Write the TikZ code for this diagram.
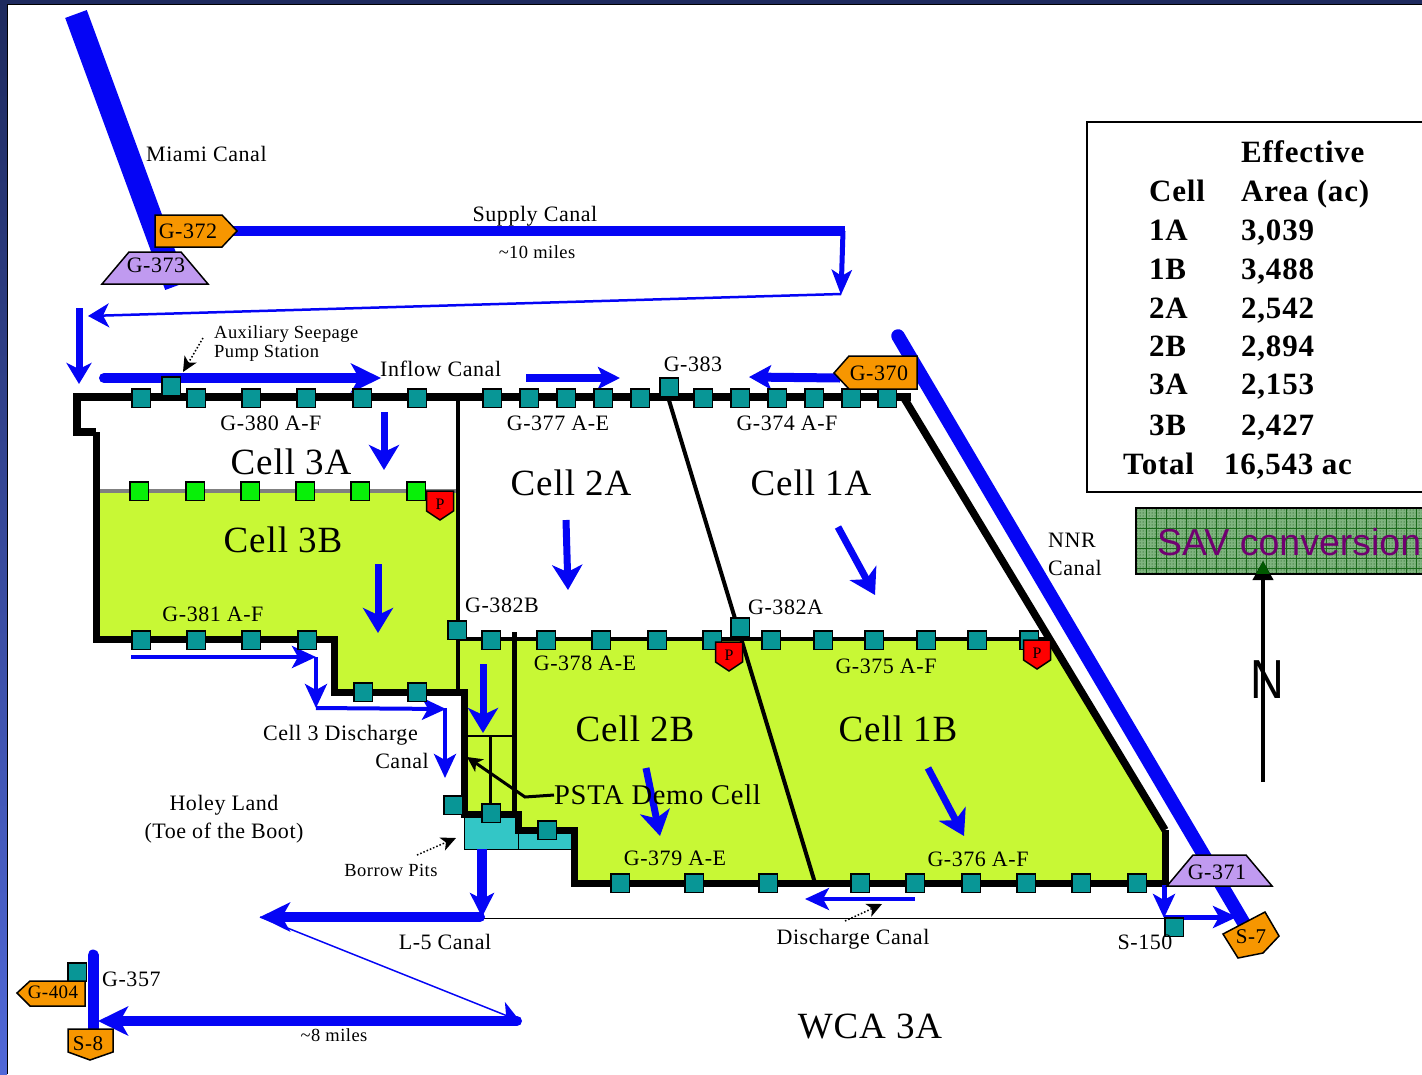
\documentclass[tikz,border=0pt]{standalone}
\usepackage{fontspec}
\usepackage{xcolor}
\setmainfont[LetterSpace=2.5]{Liberation Serif}
\newfontfamily\savfont{Liberation Sans}
\usetikzlibrary{arrows.meta,patterns}

\definecolor{canal}{HTML}{0505F5}
\definecolor{marsh}{HTML}{C8F835}
\definecolor{gateteal}{HTML}{089696}
\definecolor{gatelime}{HTML}{08F008}
\definecolor{pit}{HTML}{33C6C6}
\definecolor{amber}{HTML}{F79600}
\definecolor{lilac}{HTML}{C09AF0}
\definecolor{savgreen}{HTML}{7FB47F}
\definecolor{savline}{HTML}{1A6A1A}
\definecolor{savtext}{HTML}{700070}
\definecolor{striptop}{HTML}{1E2A5E}
\definecolor{stripbot}{HTML}{5068D8}

\tikzset{
  gate/.style={draw=black, line width=1.5pt, fill=gateteal, minimum size=18.5pt, inner sep=0pt},
  limegate/.style={gate, fill=gatelime},
  gatetext/.style={inner sep=0pt, text height=15pt, text depth=0pt, font=\fontsize{22}{24}\selectfont},
  notetext/.style={inner sep=0pt, text height=12.5pt, text depth=0pt, font=\fontsize{18.5}{19}\selectfont},
  celltext/.style={inner sep=0pt, text height=25pt, text depth=0pt, font=\fontsize{37}{40}\selectfont},
  tabletext/.style={inner sep=0pt, anchor=west, text height=21pt, text depth=0pt, font=\fontsize{31}{33}\selectfont\bfseries},
  pointer/.style={black, line width=1.5pt, dotted, -{Stealth[length=15pt,width=14pt,inset=4pt]}},
  bigflow/.style={draw=canal, line width=10pt, -{Stealth[length=30pt,width=29pt,inset=8pt]}},
  flow/.style={draw=canal, line width=7pt, -{Stealth[length=25pt,width=30pt,inset=7pt]}},
  smallflow/.style={draw=canal, line width=4pt, -{Stealth[length=24pt,width=22pt,inset=6pt]}},
  thinflow/.style={draw=canal, line width=1.5pt, -{Stealth[length=21pt,width=24pt,inset=6pt]}}
}

\begin{document}
\begin{tikzpicture}[x=1pt,y=-1pt]
\useasboundingbox (0,0) rectangle (1422,1074);

\shade[top color=striptop, bottom color=stripbot] (0,0) rectangle (7,1074);
\fill[striptop] (0,0) rectangle (1422,4);
\fill[black] (7,4) rectangle (8,1074);
\fill[black] (7,4) rectangle (1422,5);

\fill[marsh] (98,492) -- (458,492) -- (458,692) -- (334,692) -- (334,639) -- (98,639) -- cycle;
\fill[marsh] (458,639) -- (1047,639) -- (1165,830) -- (1165,883) -- (574,883) -- (574,830) -- (518,830) -- (518,814) -- (464,814) -- (464,692) -- (458,692) -- cycle;
\draw[fill=pit, line width=1pt] (464,817) rectangle (518,849);
\draw[fill=pit, line width=1pt] (518,832) rectangle (572,849);

\draw[canal, line width=23pt] (76,14) -- (176,286);
\draw[canal, line width=10pt] (230,231) -- (845,231);
\draw[canal, line width=13.5pt, line cap=round] (898,336) -- (1245,925);

\draw[line width=1pt] (484,918) -- (1164,918);
\draw[line width=4pt, gray] (98,491) -- (456,491);
\draw[line width=4pt] (458,397) -- (458,692);
\draw[line width=4pt] (458,639) -- (1047,639);
\draw[line width=4pt] (668,397) -- (815,883);
\draw[line width=5pt] (514,632) -- (514,814);
\draw[line width=1.5pt] (466,736) -- (514,736);
\draw[line width=3pt] (490,736) -- (490,808);
\draw[line width=7.5pt] (96,432) -- (77,432) -- (77,397) -- (911,397);
\draw[line width=7.5pt] (904,398) -- (1165,830);
\draw[line width=7pt] (96,432) -- (96,639) -- (334,639) -- (334,692) -- (464,692) -- (464,814) -- (518,814) -- (518,830) -- (574,830) -- (574,883) -- (1165,883) -- (1165,830);

\foreach \x in {139,195,250,305,360,416} \node[limegate] (lime\x) at (\x,491) {};

\draw[draw=canal, line width=5pt, -{Stealth[length=25pt,width=20pt,inset=6pt]}] (843,231) -- (841,295);
\draw[thinflow, line width=2.5pt] (841,294) -- (88,316);
\draw[flow, -{Stealth[length=21pt,width=25pt,inset=6pt]}] (79,308) -- (79,384);
\draw[bigflow, line cap=round] (104,378) -- (381,378);
\draw[flow, line width=8pt, -{Stealth[length=22pt,width=22pt,inset=5pt]}] (526,378) -- (620,378);
\draw[flow, line width=9pt, -{Stealth[length=22pt,width=24pt,inset=5pt]}] (840,378) -- (749,377);

\draw[flow] (384,412) -- (384,470);
\draw[flow] (378,564) -- (378,633);
\draw[flow] (566,520) -- (568,590);
\draw[flow] (838,527) -- (875,595);
\draw[flow] (483,664) -- (483,733);
\draw[flow] (646,768) -- (660,836);
\draw[flow] (928,768) -- (964,836);

\draw[smallflow] (131,657) -- (316,657);
\draw[smallflow] (316,657) -- (316,708);
\draw[smallflow] (316,708) -- (446,709);
\draw[smallflow] (445,708) -- (445,778);

\draw[bigflow, -{Stealth[length=24pt,width=24pt,inset=6pt]}] (482,849) -- (482,917);
\draw[bigflow, line cap=round] (480,917) -- (260,917);
\draw[thinflow] (260,917) -- (520,1021);
\draw[bigflow, line cap=round] (517,1021) -- (98,1021);
\draw[canal, line width=11pt, line cap=round] (93,955) -- (93,1030);
\draw[smallflow, line width=5pt] (1164,885) -- (1164,918);
\draw[smallflow, line width=5pt] (1164,917) -- (1237,917);
\draw[smallflow] (915,899) -- (805,899);

\foreach \x in {141,196,251,306,362,417,492,529,566,603,640,703,740,777,814,851,887} \node[gate] (top\x) at (\x,398) {};
\foreach \x in {491,546,601,657,712,771,823,874,926,977,1029} \node[gate] (mid\x) at (\x,640) {};
\foreach \x in {141,196,251,307} \node[gate] (low\x) at (\x,640) {};
\foreach \x in {620,694,768,860,915,971,1026,1081,1137} \node[gate] (bot\x) at (\x,883) {};
\node[gate] (aux) at (171,386) {};
\node[gate] (g383) at (669,387) {};
\node[gate] (g382b) at (457,630) {};
\node[gate] (g382a) at (740,627) {};
\node[gate] (dis363) at (363,692) {};
\node[gate] (dis417) at (417,692) {};
\node[gate] (psta491) at (491,813) {};
\node[gate] (psta547) at (547,830) {};
\node[gate] (psta453) at (453,805) {};
\node[gate] (s150) at (1174,927) {};
\node[gate] (g357) at (77,972) {};

\foreach \x/\y in {440/491,729/642,1037/640} {
  \draw[fill=red, line width=1.5pt] (\x-13.5,\y) -- (\x+13.5,\y) -- (\x+13.5,\y+20) -- (\x,\y+29) -- (\x-13.5,\y+20) -- cycle;
  \node[inner sep=0pt, font=\fontsize{16}{17}\selectfont] (pump\x) at (\x,\y+13) {P};
}

\draw[fill=amber, line width=1.5pt] (155,215) -- (222,215) -- (237,231) -- (222,247) -- (155,247) -- cycle;
\node[gatetext] (g372) at (188,231) {G-372};
\draw[fill=lilac, line width=1.5pt] (102,284) -- (129,252) -- (181,252) -- (208,284) -- cycle;
\node[gatetext] (g373) at (156,265) {G-373};
\draw[fill=amber, line width=1.5pt] (834,373) -- (849,356) -- (917,356) -- (917,389) -- (849,389) -- cycle;
\node[gatetext] (g370) at (879,373) {G-370};
\draw[fill=lilac, line width=1.5pt] (1167,886) -- (1193,855) -- (1246,855) -- (1272,886) -- cycle;
\node[gatetext] (g371) at (1217,872) {G-371};
\draw[fill=amber, line width=1.5pt] (1223,934) -- (1265,912) -- (1279,936) -- (1263,953) -- (1238,958) -- cycle;
\node[inner sep=0pt, font=\fontsize{21}{22}\selectfont] (s7) at (1251,937) {S-7};
\draw[fill=amber, line width=1.5pt] (17,993) -- (30,981) -- (85,981) -- (85,1006) -- (30,1006) -- cycle;
\node[inner sep=0pt, font=\fontsize{19}{22}\selectfont] (g404) at (53,992) {G-404};
\draw[fill=amber, line width=1.5pt] (68,1029) -- (113,1029) -- (113,1052) -- (90,1060) -- (68,1052) -- cycle;
\node[inner sep=0pt, font=\fontsize{21}{22}\selectfont] (s8) at (88,1044) {S-8};

\node[gatetext, anchor=west] (miami) at (146,154) {Miami Canal};
\node[gatetext] (supply) at (535,214) {Supply Canal};
\node[notetext] (ten) at (537,252) {\textasciitilde10 miles};
\node[inner sep=0pt, font=\fontsize{18.5}{19}\selectfont, anchor=north west, align=left] (seep) at (214,325) {Auxiliary Seepage\\Pump Station};
\node[gatetext, anchor=west] (inflow) at (380,369) {Inflow Canal};
\node[gatetext] (l383) at (693,364) {G-383};
\node[gatetext] (l380) at (271,423) {G-380 A-F};
\node[gatetext] (l377) at (558,423) {G-377 A-E};
\node[gatetext] (l374) at (787,423) {G-374 A-F};
\node[gatetext] (l381) at (213,614) {G-381 A-F};
\node[gatetext, anchor=west] (l382b) at (465,605) {G-382B};
\node[gatetext, anchor=west] (l382a) at (748,607) {G-382A};
\node[gatetext] (l378) at (585,663) {G-378 A-E};
\node[gatetext] (l375) at (886,666) {G-375 A-F};
\node[gatetext] (l379) at (675,858) {G-379 A-E};
\node[gatetext] (l376) at (978,859) {G-376 A-F};
\node[gatetext, anchor=west] (l357) at (102,979) {G-357};
\node[gatetext, anchor=east] (dis1) at (418,733) {Cell 3 Discharge};
\node[gatetext, anchor=east] (dis2) at (429,761) {Canal};
\node[inner sep=0pt, align=center, font=\fontsize{22}{28}\selectfont] (holey) at (224,819) {Holey Land\\(Toe of the Boot)};
\node[notetext] (borrow) at (391,870) {Borrow Pits};
\node[gatetext] (l5) at (445,942) {L-5 Canal};
\node[gatetext] (discharge) at (853,937) {Discharge Canal};
\node[gatetext] (l150) at (1145,942) {S-150};
\node[notetext] (eight) at (334,1035) {\textasciitilde8 miles};
\node[gatetext, anchor=west] (nnr1) at (1048,540) {NNR};
\node[gatetext, anchor=west] (nnr2) at (1048,568) {Canal};

\node[celltext] (c3a) at (291,462) {Cell 3A};
\node[celltext] (c3b) at (283,540) {Cell 3B};
\node[celltext] (c2a) at (571,483) {Cell 2A};
\node[celltext] (c1a) at (811,483) {Cell 1A};
\node[celltext] (c2b) at (635,729) {Cell 2B};
\node[celltext] (c1b) at (898,729) {Cell 1B};
\node[celltext] (wca) at (870,1026) {WCA 3A};
\node[inner sep=0pt, anchor=west, font=\fontsize{28.5}{30}\selectfont] (psta) at (554,795) {PSTA Demo Cell};

\draw[line width=3pt, -{Stealth[length=15pt,width=15pt,inset=4pt]}] (psta.west) -- (525,797) -- (467,757);
\draw[pointer] (203,338) -- (183,372);
\draw[pointer] (417,855) -- (456,838);
\draw[pointer] (845,921) -- (882,904);

\fill[savgreen] (1136,508) rectangle (1422,574);
\fill[pattern=dots, pattern color=green!25!black] (1136,508) rectangle (1422,574);
\foreach \x in {1146,1156,...,1416} \draw[savline, line width=.7pt] (\x,508) -- (\x,574);
\foreach \y in {518,528,...,568} \draw[savline, line width=.7pt] (1136,\y) -- (1422,\y);
\draw[line width=2pt] (1422,508) -- (1136,508) -- (1136,574) -- (1422,574);
\node[inner sep=0pt, anchor=west, text=savtext, font=\savfont\fontsize{37.5}{38}\selectfont] (sav) at (1157,542) {SAV conversion};

\draw[line width=4pt, -{Stealth[length=19pt,width=20pt,inset=0pt]}] (1263,782) -- (1263,561);
\begin{scope}
\clip (1136,508) rectangle (1422,573);
\fill[green!35!black] (1263,561) -- (1273,580) -- (1253,580) -- cycle;
\end{scope}
\node[inner sep=0pt, xscale=.85, font=\savfont\fontsize{55}{56}\selectfont] (north) at (1267,680) {N};

\draw[line width=2pt] (1422,122) -- (1087,122) -- (1087,492) -- (1422,492);
\node[tabletext] (effective) at (1241,152) {Effective};
\node[tabletext] (cell) at (1149,191) {Cell};
\node[tabletext] (area) at (1241,191) {Area (ac)};
\node[tabletext] (r1) at (1149,230) {1A};
\node[tabletext] (a1) at (1241,230) {3,039};
\node[tabletext] (r2) at (1149,269) {1B};
\node[tabletext] (a2) at (1241,269) {3,488};
\node[tabletext] (r3) at (1149,308) {2A};
\node[tabletext] (a3) at (1241,308) {2,542};
\node[tabletext] (r4) at (1149,346) {2B};
\node[tabletext] (a4) at (1241,346) {2,894};
\node[tabletext] (r5) at (1149,384) {3A};
\node[tabletext] (a5) at (1241,384) {2,153};
\node[tabletext] (r6) at (1149,425) {3B};
\node[tabletext] (a6) at (1241,425) {2,427};
\node[tabletext] (total) at (1123,464) {Total};
\node[tabletext] (sum) at (1224,464) {16,543 ac};
\end{tikzpicture}
\end{document}
